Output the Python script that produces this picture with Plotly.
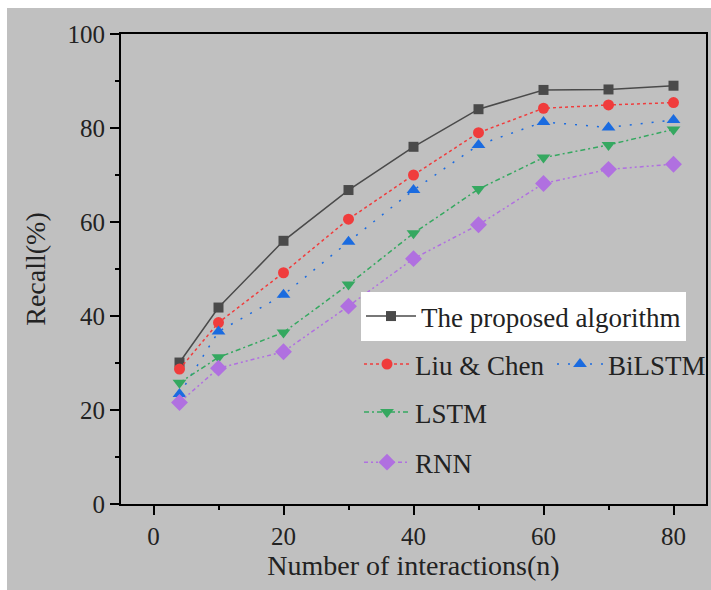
import plotly.graph_objects as go

x_vals = [4, 10, 20, 30, 40, 50, 60, 70, 80]
proposed = [30.1, 41.8, 56.0, 66.8, 76.0, 84.0, 88.1, 88.2, 89.0]
liu_chen = [28.7, 38.6, 49.2, 60.6, 70.0, 79.0, 84.2, 84.9, 85.4]
bilstm = [23.4, 36.7, 44.5, 55.8, 66.8, 76.4, 81.3, 80.1, 81.7]
lstm = [25.8, 31.2, 36.5, 46.7, 57.6, 67.0, 73.7, 76.4, 79.7]
rnn = [21.6, 28.9, 32.4, 42.1, 52.2, 59.4, 68.2, 71.2, 72.3]

x_ticks = [0, 20, 40, 60, 80]
y_ticks = [0, 20, 40, 60, 80, 100]

FONT = "Liberation Serif"
GRAY = "#c0c0c0"

fig = go.Figure()

series = [
    ("The proposed algorithm", proposed, "#4a4a4a", "solid", "square", 10, "legend", "g1"),
    ("Liu & Chen", liu_chen, "#f03c3c", "dot", "circle", 11, "legend2", "g2"),
    ("BiLSTM", bilstm, "#1a6be0", "2px,9px", "triangle-up", 12, "legend2", "g3"),
    ("LSTM", lstm, "#35a860", "5px,3px,2px,3px", "triangle-down", 12, "legend3", "g4"),
    ("RNN", rnn, "#b070e0", "4px,3px,2px,3px,2px,3px", "diamond", 13, "legend3", "g5"),
]

for name, ys, color, dash, sym, size, lg, grp in series:
    fig.add_trace(go.Scatter(
        x=x_vals, y=ys, name=name, mode="lines+markers",
        line=dict(color=color, width=1.5, dash=dash),
        marker=dict(symbol=sym, size=size, color=color),
        legend=lg, legendgroup=grp,
    ))

axis_common = dict(
    showline=True, linecolor="black", linewidth=1.8, mirror=True,
    ticks="outside", ticklen=9, tickwidth=1.5, tickcolor="black",
    showgrid=False, zeroline=False,
    tickfont=dict(family=FONT, size=25, color="#222"),
)

fig.update_xaxes(
    range=[-5, 85], tickvals=x_ticks,
    minor=dict(tickvals=[10, 30, 50, 70], ticklen=4, tickwidth=1.5, tickcolor="black", ticks="outside"),
    title=dict(text="Number of interactions(n)", font=dict(family=FONT, size=28, color="#222"), standoff=6),
    **axis_common,
)
fig.update_yaxes(
    range=[0, 100], tickvals=y_ticks,
    minor=dict(tickvals=[10, 30, 50, 70, 90], ticklen=4, tickwidth=1.5, tickcolor="black", ticks="outside"),
    title=dict(text="Recall(%)", font=dict(family=FONT, size=28, color="#222"), standoff=14),
    **axis_common,
)

L, R, T, B = 121, 5, 34, 86
W, H = 711, 590
pw, ph = W - L - R, H - T - B

def px2x(px):
    return (px - L) / pw

def py2y(py):
    return (H - B - py) / ph

fig.add_shape(type="rect", xref="paper", yref="paper",
              x0=px2x(7), x1=px2x(711), y0=py2y(590), y1=py2y(8),
              fillcolor=GRAY, line=dict(width=0), layer="below")

leg_font = dict(family=FONT, size=27, color="#222")
fig.update_layout(
    width=W, height=H,
    margin=dict(l=L, r=R, t=T, b=B, autoexpand=False),
    paper_bgcolor="white",
    plot_bgcolor=GRAY,
    showlegend=True,
    legend=dict(x=px2x(361), y=py2y(292), xanchor="left", yanchor="top",
                bgcolor="white", font=leg_font, itemwidth=50, tracegroupgap=0),
    legend2=dict(x=px2x(359), y=py2y(340), xanchor="left", yanchor="top",
                 orientation="h", bgcolor="rgba(0,0,0,0)", font=leg_font,
                 itemwidth=46, entrywidth=132, entrywidthmode="pixels"),
    legend3=dict(x=px2x(359), y=py2y(388), xanchor="left", yanchor="top",
                 bgcolor="rgba(0,0,0,0)", font=leg_font, itemwidth=46, tracegroupgap=12),
)

fig.write_html("out.html")
